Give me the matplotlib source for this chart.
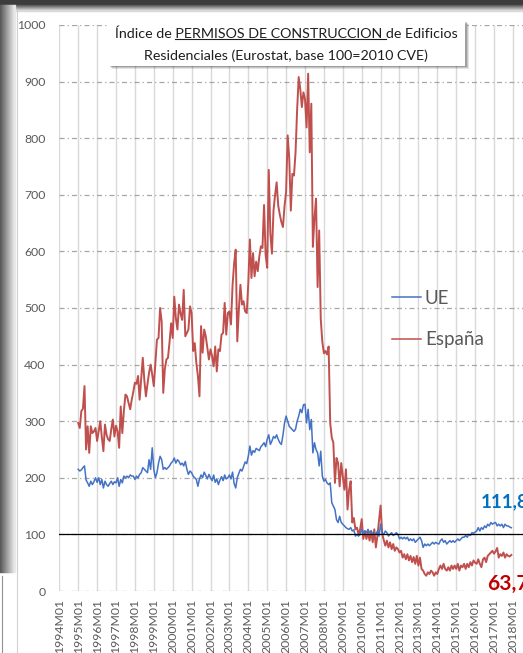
import numpy as np
import matplotlib
matplotlib.use("Agg")
import matplotlib.pyplot as plt
from matplotlib.patches import Rectangle
from matplotlib.lines import Line2D

# ─── Dades (índex base 100 = 2010, mensual 1995M01 - 2017M12) ─────────────────

YEARS = list(range(1994, 2019))
TICK_LABELS = [f"{y}M01" for y in YEARS]
FIRST_YEAR = 1995

UE = [
    215, 212, 214, 218, 221, 196, 191, 185, 194, 188, 193, 200,   # 1995
    192, 200, 188, 197, 182, 194, 188, 185, 190, 194, 188, 193,   # 1996
    191, 200, 185, 197, 191, 203, 200, 203, 200, 205, 203, 203,   # 1997
    197, 203, 200, 206, 209, 218, 215, 212, 209, 232, 215, 253,   # 1998
    215, 200, 209, 226, 238, 232, 215, 218, 215, 218, 221, 226,   # 1999
    229, 235, 226, 232, 229, 223, 226, 221, 229, 215, 206, 212,   # 2000
    209, 203, 200, 197, 185, 198, 205, 200, 210, 204, 198, 206,   # 2001
    200, 195, 205, 192, 198, 188, 196, 202, 195, 205, 198, 200,   # 2002
    205, 198, 210, 190, 182, 200, 208, 215, 212, 220, 228, 225,   # 2003
    238, 256, 240, 248, 245, 252, 250, 248, 255, 258, 262, 255,   # 2004
    268, 276, 259, 265, 273, 270, 276, 268, 262, 259, 275, 297,   # 2005
    309, 300, 291, 288, 285, 282, 286, 300, 309, 321, 315, 329,   # 2006
    330, 297, 321, 285, 303, 244, 262, 250, 244, 221, 247, 203,   # 2007
    194, 197, 191, 188, 191, 156, 150, 144, 126, 121, 132, 121,   # 2008
    118, 115, 112, 110, 109, 112, 106, 108, 97, 100, 97, 100,     # 2009
    109, 100, 106, 103, 109, 103, 106, 100, 103, 100, 106, 97,    # 2010
    118, 103, 100, 106, 103, 97, 100, 103, 98, 100, 103, 100,     # 2011
    92, 95, 92, 95, 92, 95, 89, 92, 89, 92, 86, 89,               # 2012
    92, 95, 89, 77, 83, 80, 83, 80, 83, 86, 83, 86,               # 2013
    84, 83, 89, 92, 86, 89, 83, 86, 89, 86, 89, 86,               # 2014
    89, 92, 89, 92, 95, 95, 98, 95, 100, 98, 103, 102,            # 2015
    104, 106, 112, 106, 112, 109, 115, 112, 118, 115, 121, 118,   # 2016
    120, 121, 115, 118, 115, 118, 112, 118, 115, 115, 113, 111.8, # 2017
]

ESPANA = [
    297, 288, 318, 322, 362, 250, 291, 244, 291, 279, 282, 288,   # 1995
    265, 282, 300, 272, 247, 294, 276, 268, 265, 286, 303, 273,   # 1996
    292, 282, 253, 326, 279, 318, 347, 344, 332, 321, 338, 352,   # 1997
    368, 366, 380, 338, 376, 412, 372, 344, 366, 386, 400, 382,   # 1998
    362, 402, 444, 447, 500, 476, 350, 392, 409, 412, 440, 473,   # 1999
    447, 520, 482, 462, 506, 490, 479, 532, 450, 456, 462, 503,   # 2000
    491, 424, 438, 403, 380, 344, 468, 421, 462, 450, 430, 409,   # 2001
    427, 415, 397, 432, 388, 427, 424, 453, 456, 509, 453, 491,   # 2002
    494, 471, 540, 579, 603, 441, 497, 541, 506, 512, 494, 491,   # 2003
    544, 621, 553, 597, 556, 582, 565, 591, 609, 606, 682, 594,   # 2004
    571, 744, 632, 596, 672, 700, 722, 681, 665, 652, 643, 680,   # 2005
    705, 805, 764, 672, 737, 734, 775, 850, 908, 887, 855, 881,   # 2006
    869, 819, 914, 775, 861, 608, 658, 693, 537, 637, 481, 440,   # 2007
    420, 424, 418, 432, 297, 271, 262, 191, 235, 226, 185, 226,   # 2008
    203, 179, 215, 144, 179, 194, 121, 129, 109, 112, 100, 109,   # 2009
    127, 92, 106, 92, 104, 89, 106, 86, 109, 77, 98, 124,         # 2010
    151, 101, 90, 80, 89, 77, 86, 74, 83, 71, 77, 74,             # 2011
    68, 71, 59, 65, 56, 65, 54, 62, 51, 60, 48, 62,               # 2012
    45, 59, 39, 36, 30, 27, 33, 30, 36, 33, 27, 33,               # 2013
    30, 39, 45, 39, 48, 39, 36, 42, 36, 45, 39, 45,               # 2014
    39, 48, 36, 45, 42, 48, 39, 48, 42, 51, 45, 54,               # 2015
    50, 48, 56, 48, 42, 56, 59, 51, 62, 65, 68, 71,               # 2016
    66, 70, 76, 59, 65, 62, 68, 59, 65, 62, 61, 63.7,             # 2017
]

UE_LAST = "111,8"
ESP_LAST = "63,7"

# ─── Estil ────────────────────────────────────────────────────────────────────

COLORS = {
    "ue":     "#4472C4",
    "esp":    "#C0504D",
    "ue_lab": "#0070C0",
    "es_lab": "#C00000",
    "vgrid":  "#D9D9D9",
    "hgrid":  "#A6A6A6",
    "tick":   "#595959",
}

plt.rcParams["font.family"] = ["Lato", "DejaVu Sans"]

W, H = 523, 653
MONTH_PX = 18.9 / 12
AX_LEFT, AX_RIGHT, AX_TOP, AX_BOTTOM = 59.3, 545, 25, 591


def fx(px):
    return px / W


def fy(py):
    return 1 - py / H


fig = plt.figure(figsize=(W / 100, H / 100), dpi=100, facecolor="white")

# marc de la captura
fig.add_artist(Rectangle((0, fy(5)), 1, 1, transform=fig.transFigure,
                         color="#3c3c3c", zorder=0))
for k in range(6):
    g = 0.35 + 0.1 * k
    fig.add_artist(Rectangle((0, fy(6 + k)), 1, 1 / H, transform=fig.transFigure,
                             color=(g, g, g), zorder=0))
for k in range(15):
    g = 0.35 + 0.04 * k
    fig.add_artist(Rectangle((fx(k), fy(572)), 1 / W, (572 - 5) / H,
                             transform=fig.transFigure, color=(g, g, g), zorder=0))
fig.add_artist(Line2D([fx(17), fx(17)], [fy(10), fy(653)], transform=fig.transFigure,
                      color="#d0d0d0", lw=0.8))
fig.add_artist(Line2D([fx(2), fx(2)], [fy(576), fy(653)], transform=fig.transFigure,
                      color="#909090", lw=0.8))

ax = fig.add_axes([fx(AX_LEFT), fy(AX_BOTTOM), fx(AX_RIGHT - AX_LEFT),
                   (AX_BOTTOM - AX_TOP) / H])
ax.set_facecolor("none")

start = (FIRST_YEAR - YEARS[0]) * 12
x_ue = np.arange(start, start + len(UE))
x_es = np.arange(start, start + len(ESPANA))

ax.plot(x_ue, UE, color=COLORS["ue"], lw=1.1, label="UE", zorder=4)
ax.plot(x_es, ESPANA, color=COLORS["esp"], lw=1.4, label="España", zorder=3)
ax.axhline(100, color="black", lw=0.9, zorder=5)

ax.set_xlim(0, (AX_RIGHT - AX_LEFT) / MONTH_PX)
ax.set_ylim(0, 1000)
ax.set_yticks(np.arange(0, 1001, 100))
ax.set_xticks(np.arange(0, 12 * len(YEARS), 12))
ax.set_xticklabels(TICK_LABELS, rotation=90, va="top", ha="center")

ax.xaxis.grid(True, color=COLORS["vgrid"], lw=1.0, ls="-")
ax.yaxis.grid(True, color=COLORS["hgrid"], lw=0.9, ls=(0, (4, 2.5, 1, 2.5)))
ax.set_axisbelow(True)
for s in ax.spines.values():
    s.set_visible(False)
ax.tick_params(axis="both", length=0, labelsize=8.8, colors=COLORS["tick"])
ax.tick_params(axis="y", pad=10)
ax.tick_params(axis="x", pad=6)

leg = ax.legend(loc="upper left", bbox_to_anchor=(fx(392), fy(290)),
                bbox_transform=fig.transFigure, frameon=False, fontsize=13.5,
                handlelength=1.55, handletextpad=0.2, labelspacing=1.3,
                borderpad=0, borderaxespad=0, labelcolor=COLORS["tick"])
for h in leg.get_lines():
    h.set_linewidth(1.1)

fig.text(fx(481), fy(507), UE_LAST, color=COLORS["ue_lab"], fontsize=13.5,
         fontweight="bold", ha="left", va="baseline")
fig.text(fx(487), fy(590), ESP_LAST, color=COLORS["es_lab"], fontsize=15,
         fontweight="bold", ha="left", va="baseline")

# ─── Títol en caixa amb ombra ─────────────────────────────────────────────────

bx0, bx1, by0, by1 = 108, 465, 21, 66
for k, a in enumerate([0.10, 0.14, 0.18]):
    off = 3 - k
    fig.add_artist(Rectangle((fx(bx0 + off + 1), fy(by1 + off)), fx(bx1 - bx0),
                             (by1 - by0) / H, transform=fig.transFigure,
                             color="black", alpha=a, lw=0, zorder=6))
fig.add_artist(Rectangle((fx(bx0), fy(by1)), fx(bx1 - bx0), (by1 - by0) / H,
                         transform=fig.transFigure, color="white", lw=0, zorder=7))

cx = fx(286)
tfont = dict(fontsize=10.25, color="#1e1e1e", zorder=8)
pre, mid, post = "Índice de ", "PERMISOS DE CONSTRUCCION ", "de Edificios"
t1 = fig.text(cx, fy(38.5), pre + mid + post, ha="center", va="baseline", **tfont)
fig.text(cx, fy(60.5), "Residenciales (Eurostat, base 100=2010 CVE)",
         ha="center", va="baseline", **tfont)

r = fig.canvas.get_renderer()
bb = t1.get_window_extent(r)
tmp = fig.text(0, 0, pre, **tfont)
w_pre = tmp.get_window_extent(r).width
tmp.set_text(pre + mid)
w_mid = tmp.get_window_extent(r).width
tmp.remove()
uy = bb.y0 + 1.5
fig.add_artist(Line2D([(bb.x0 + w_pre) / fig.bbox.width, (bb.x0 + w_mid) / fig.bbox.width],
                      [uy / fig.bbox.height] * 2, transform=fig.transFigure,
                      color="#1e1e1e", lw=0.8, zorder=9))

fig.savefig("out.png", dpi=100, facecolor="white")
